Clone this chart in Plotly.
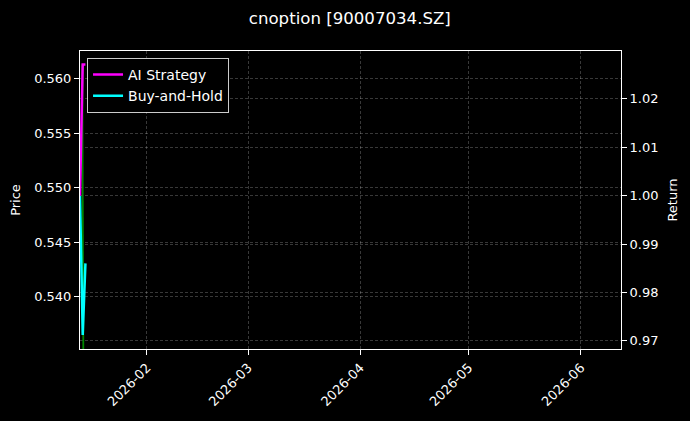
import plotly.graph_objects as go

# data
price_dates = ["2026-01-14 03:00", "2026-01-14 10:00"]
price_values = [0.5613, 0.5350]

ret_dates = ["2026-01-13 12:00", "2026-01-14 06:00", "2026-01-15 00:00"]
ai_strategy = [1.000, 1.0271, 1.0271]
buy_and_hold = [1.000, 0.9712, 0.9860]

x_range = ["2026-01-13 12:00", "2026-06-12 02:00"]
price_range = [0.53521, 0.56252]
return_range = [0.9683, 1.0299]

price_ticks = [0.540, 0.545, 0.550, 0.555, 0.560]
return_ticks = [0.97, 0.98, 0.99, 1.00, 1.01, 1.02]
month_ticks = ["2026-02-01", "2026-03-01", "2026-04-01", "2026-05-01", "2026-06-01"]
month_labels = ["2026-02", "2026-03", "2026-04", "2026-05", "2026-06"]

FONT = "DejaVu Sans"
GRID = "rgba(255,255,255,0.22)"

fig = go.Figure()

# prix (axe gauche)
fig.add_trace(go.Scatter(
    x=price_dates, y=price_values, mode="lines",
    line=dict(color="rgba(0,150,0,0.9)", width=1.8),
    showlegend=False, yaxis="y", name="Price"
))

# rendements (axe droit)
fig.add_trace(go.Scatter(
    x=ret_dates, y=buy_and_hold, mode="lines",
    line=dict(color="#00ffff", width=2.5),
    name="Buy-and-Hold", yaxis="y2"
))
fig.add_trace(go.Scatter(
    x=ret_dates, y=ai_strategy, mode="lines",
    line=dict(color="#ff00ff", width=2.5),
    name="AI Strategy", yaxis="y2"
))

axis_common = dict(
    showline=True, linecolor="white", linewidth=1,
    ticks="outside", ticklen=5, tickcolor="white", tickwidth=1,
    tickfont=dict(family=FONT, size=13, color="white"),
    showgrid=True, gridcolor=GRID, gridwidth=0.6, griddash="3px,2px",
    zeroline=False,
)

fig.update_layout(
    width=690, height=421,
    paper_bgcolor="black", plot_bgcolor="black",
    margin=dict(l=80, r=69, t=51, b=70),
    font=dict(family=FONT, size=13, color="white"),
    title=dict(text="cnoption [90007034.SZ]", x=0.507, xanchor="center",
               y=0.957, yanchor="middle",
               font=dict(family=FONT, size=16.6, color="white")),
    xaxis=dict(
        type="date", range=x_range, mirror=True,
        tickvals=month_ticks, ticktext=month_labels, tickangle=-45,
        **axis_common
    ),
    yaxis=dict(
        range=price_range, tickvals=price_ticks, tickformat=".3f",
        title=dict(text="Price", font=dict(family=FONT, size=13, color="white"), standoff=10),
        **axis_common
    ),
    yaxis2=dict(
        range=return_range, tickvals=return_ticks, tickformat=".2f",
        overlaying="y", side="right", anchor="x",
        title=dict(text="Return", font=dict(family=FONT, size=13, color="white"), standoff=10),
        **axis_common
    ),
    legend=dict(
        x=0.013, y=0.977, xanchor="left", yanchor="top",
        bgcolor="black", bordercolor="rgba(255,255,255,0.8)", borderwidth=1,
        font=dict(family=FONT, size=14, color="white"),
        traceorder="reversed", itemwidth=30, tracegroupgap=0,
    ),
)

# pas de marge autour de la page, pas de barre d'outils
fig.write_html("out.html", config={"displayModeBar": False},
               post_script="document.body.style.margin='0';")
